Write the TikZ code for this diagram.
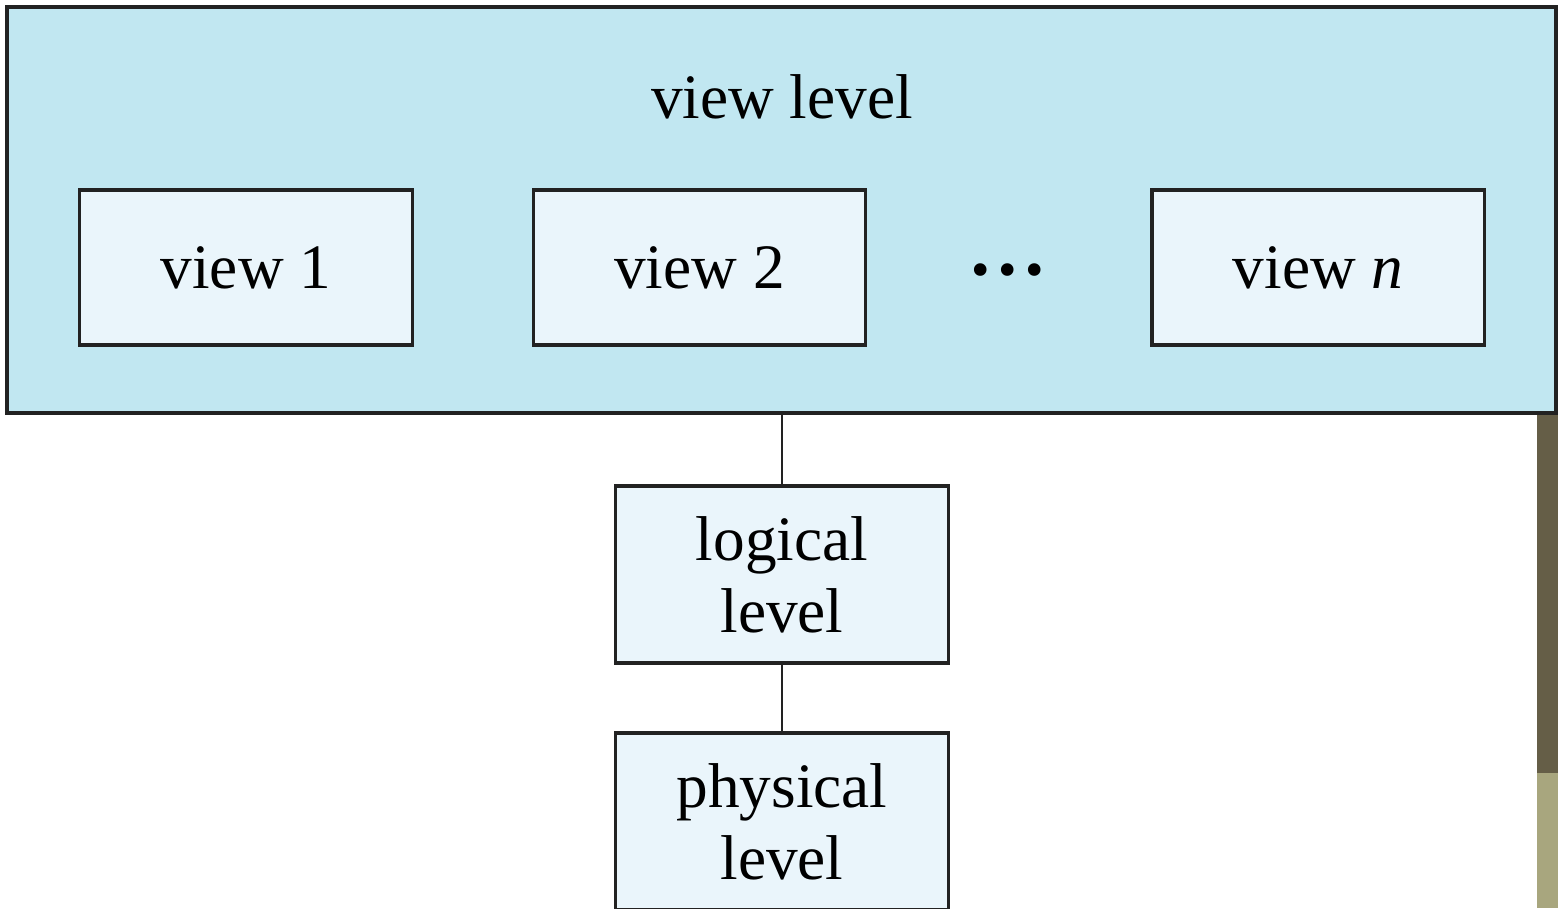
\documentclass[tikz,border=0pt]{standalone}
\usepackage{fontspec}
\setmainfont{Liberation Serif}
\usepackage{amsmath}

\definecolor{bleuFonce}{HTML}{C1E7F1}
\definecolor{bleuClair}{HTML}{EAF5FB}
\definecolor{bord}{HTML}{222222}
\definecolor{olive}{HTML}{655E47}
\definecolor{oliveClair}{HTML}{A8A67E}

\begin{document}
\begin{tikzpicture}[x=0.01cm,y=-0.01cm]
% Styles (MODIFIABLES)
\tikzstyle{trait}=[draw=bord,line width=0.8pt]
\tikzstyle{cadre}=[fill=bleuFonce,draw=bord,line width=1pt]
\tikzstyle{vue}=[fill=bleuClair,draw=bord,line width=0.9pt,minimum width=3.32cm,minimum height=1.55cm,inner sep=0pt,font=\fontsize{18}{20}\selectfont]
\tikzstyle{niveau}=[fill=bleuClair,draw=bord,line width=0.9pt,minimum width=3.32cm,minimum height=1.77cm,inner sep=0pt,align=center,font=\fontsize{18}{20.5}\selectfont]
% Dimensions (MODIFIABLES)
\def\LigneVues{267.5}
\def\Milieu{782}
% Cadre de page
\useasboundingbox (0,0) rectangle (1558,908);
\clip (0,0) rectangle (1558,908);
\fill[olive] (1537,413) rectangle (1558,773);
\fill[oliveClair] (1537,773) rectangle (1558,908);
% Niveau des vues
\draw[cadre] (7,7) rectangle (1556,413);
\node[font=\fontsize{18}{20}\selectfont] (V) at (\Milieu,97) {view level};
% Noeuds (MODIFIABLES)
\node[vue] (Va) at (246,\LigneVues) {view 1};
\node[vue] (Vb) at (699.5,\LigneVues) {view 2};
\node[inner sep=0pt,font=\fontsize{15}{16}\selectfont] (Vpts) at (1008,276) {\textbullet\hspace{2.4pt}\textbullet\hspace{2.4pt}\textbullet};
\node[vue] (Vn) at (1318,\LigneVues) {view \textit{n}};
\coordinate (Vbas) at (\Milieu,413);
\node[niveau] (L) at (\Milieu,574.5) {logical\\level};
\node[niveau] (P) at (\Milieu,821.5) {physical\\level};
% Arcs
\draw[trait] (Vbas)--(L);
\draw[trait] (L)--(P);
\end{tikzpicture}
\end{document}
